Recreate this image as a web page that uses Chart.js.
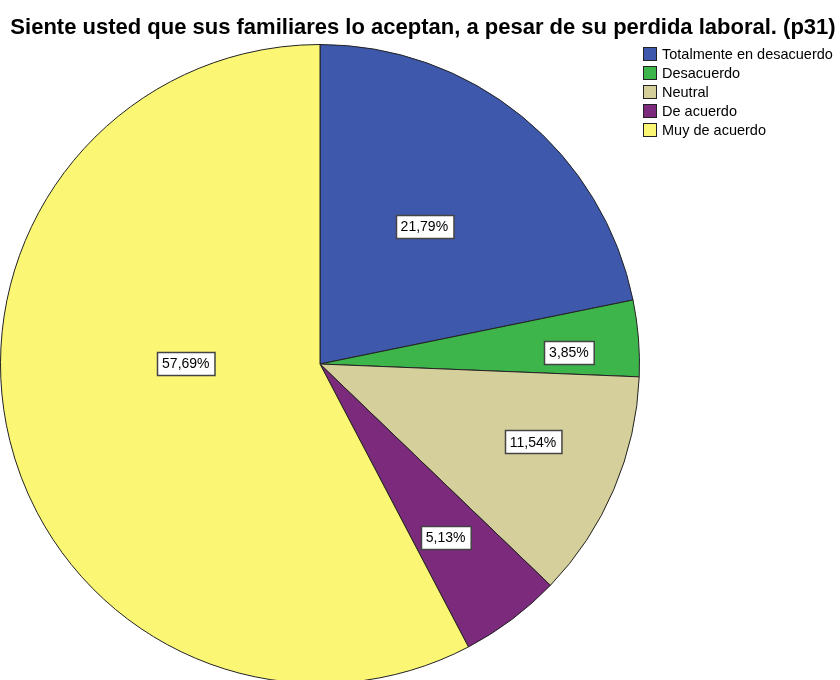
<!DOCTYPE html>
<html>
<head>
<meta charset="utf-8">
<script src="https://cdn.jsdelivr.net/npm/chart.js@4/dist/chart.umd.min.js"></script>
<style>
  html, body { margin: 0; padding: 0; background: #fff; }
  #wrap { width: 840px; height: 680px; overflow: hidden; position: relative; }
  canvas { display: block; }
</style>
</head>
<body>
<div id="wrap"><canvas id="c" width="840" height="700"></canvas></div>
<script>
const chartTitle = 'Siente usted que sus familiares lo aceptan, a pesar de su perdida laboral. (p31)';
const categories = ['Totalmente en desacuerdo', 'Desacuerdo', 'Neutral', 'De acuerdo', 'Muy de acuerdo'];
const percentages = [21.79, 3.85, 11.54, 5.13, 57.69];
const sliceColors = ['#3E58AC', '#3DB54B', '#D5CF9B', '#7B2A7C', '#FBF674'];
// where each value box sits: share of the radius, and a small turn (degrees) off the slice middle
const labelRadius = [0.54, 0.78, 0.71, 0.67, 0.42];
const labelTurn = [-2, 2, -3, 1, 14];

function fmt(v) { return v.toFixed(2).replace('.', ',') + '%'; }

const overlay = {
  id: 'overlay',
  afterDraw(chart) {
    const ctx = chart.ctx;
    ctx.save();
    // title
    ctx.fillStyle = '#000';
    ctx.font = 'bold 22px "Liberation Sans", Arial, sans-serif';
    ctx.textAlign = 'center';
    ctx.textBaseline = 'alphabetic';
    ctx.fillText(chartTitle, 423, 34);

    // legend
    ctx.font = '14.5px "Liberation Sans", Arial, sans-serif';
    ctx.textAlign = 'left';
    ctx.textBaseline = 'middle';
    categories.forEach((name, i) => {
      const y = 47 + i * 19;
      ctx.fillStyle = sliceColors[i];
      ctx.fillRect(643.5, y + 0.5, 13, 13);
      ctx.strokeStyle = '#222';
      ctx.lineWidth = 1;
      ctx.strokeRect(643.5, y + 0.5, 13, 13);
      ctx.fillStyle = '#000';
      ctx.fillText(name, 662, y + 7.5);
    });

    // value boxes
    const arcs = chart.getDatasetMeta(0).data;
    ctx.font = '14px "Liberation Sans", Arial, sans-serif';
    ctx.textAlign = 'center';
    arcs.forEach((arc, i) => {
      const p = arc.getProps(['x', 'y', 'startAngle', 'endAngle', 'outerRadius'], true);
      const mid = (p.startAngle + p.endAngle) / 2 + labelTurn[i] * Math.PI / 180;
      const r = p.outerRadius * labelRadius[i];
      const cx = p.x + Math.cos(mid) * r;
      const cy = p.y + Math.sin(mid) * r;
      const text = fmt(percentages[i]);
      const w = ctx.measureText(text).width + 10;
      const h = 23;
      const bx = Math.round(cx - w / 2) + 0.5;
      const by = Math.round(cy - h / 2) + 0.5;
      ctx.fillStyle = '#fff';
      ctx.fillRect(bx, by, w, h);
      ctx.strokeStyle = '#444';
      ctx.lineWidth = 1.5;
      ctx.strokeRect(bx, by, w, h);
      ctx.fillStyle = '#000';
      ctx.fillText(text, cx, cy + 1);
    });
    ctx.restore();
  }
};

new Chart(document.getElementById('c'), {
  type: 'pie',
  data: {
    labels: categories,
    datasets: [{
      data: percentages,
      backgroundColor: sliceColors,
      borderColor: '#222',
      borderWidth: 1
    }]
  },
  options: {
    responsive: false,
    animation: false,
    layout: { padding: { left: 0, right: 200, top: 44, bottom: 16 } },
    plugins: {
      legend: { display: false },
      tooltip: { enabled: false },
      title: { display: false }
    }
  },
  plugins: [overlay]
});
</script>
</body>
</html>
